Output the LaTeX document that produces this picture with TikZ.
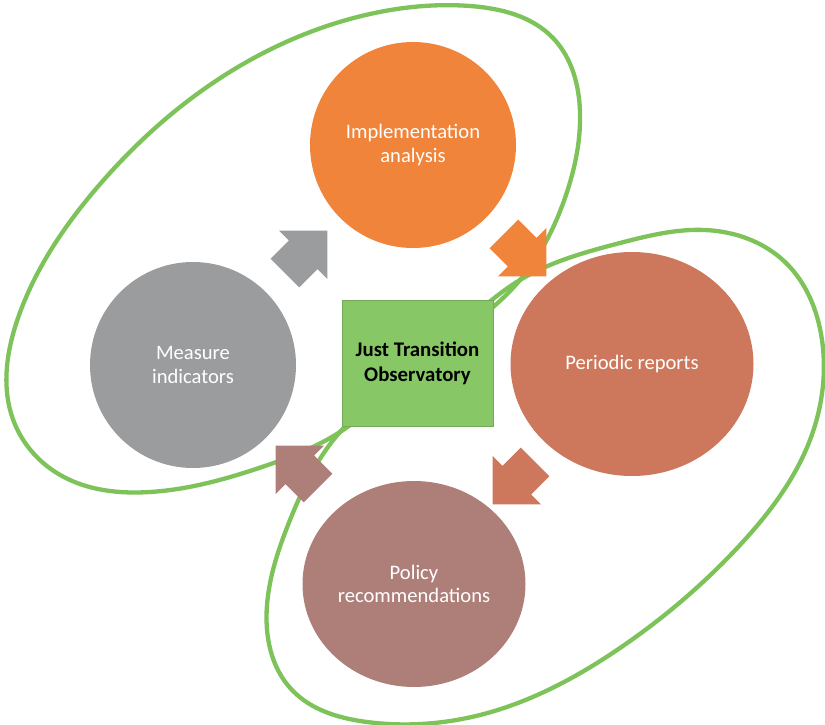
\documentclass[tikz,border=0pt]{standalone}
\usepackage{fontspec}
\setmainfont{Carlito}
\usetikzlibrary{shapes.geometric,shapes.arrows,hobby}

\definecolor{implorange}{HTML}{F0843A}
\definecolor{measuregray}{HTML}{9B9C9E}
\definecolor{reportbrown}{HTML}{CD785C}
\definecolor{policymauve}{HTML}{AE7F79}
\definecolor{hubgreen}{HTML}{88C765}
\definecolor{loopgreen}{HTML}{7DC35A}

\begin{document}
\begin{tikzpicture}[x=1pt,y=-1pt,
    step node/.style={ellipse,inner sep=0pt,text=white,align=center,font=\fontsize{20.6}{23.5}\selectfont},
    hub node/.style={rectangle,fill=hubgreen,draw=hubgreen!85!black,line width=0.8pt,minimum width=151pt,minimum height=126pt,align=center,font=\fontsize{20.8}{25}\selectfont\bfseries},
    arrow node/.style={single arrow,minimum height=60pt,single arrow head extend=14pt,inner xsep=0pt,inner ysep=20pt,text height=0pt,text depth=0pt},
    loop line/.style={draw=loopgreen,line width=4.3pt,use Hobby shortcut,closed=true}]
    \useasboundingbox (0,0) rectangle (825,725);

    % the two loops meet on the diagonal behind the hub
    \draw[loop line] (420,365) .. (520,280) .. (566,195) .. (580,112) .. (553,38) .. (470,6) .. (370,14) .. (225,75) .. (95,190) .. (18,318) .. (14,422) .. (62,476) .. (150,492) .. (262,467) .. (340,432);
    \draw[loop line] (420,365) .. (520,280) .. (620,243) .. (705,230) .. (785,262) .. (822,340) .. (810,440) .. (740,545) .. (620,648) .. (480,715) .. (367,722) .. (292,690) .. (267,605) .. (290,520) .. (340,432);

    \node[step node, fill=implorange, minimum width=206pt, minimum height=206pt] at (413,145) (impl) {Implementation\\analysis};
    \node[step node, fill=measuregray, minimum width=206pt, minimum height=206pt] at (193,365) (measure) {Measure\\indicators};
    \node[step node, fill=reportbrown, minimum width=243pt, minimum height=224pt] at (632,364) (reports) {Periodic reports};
    \node[step node, fill=policymauve, minimum width=223pt, minimum height=206pt] at (414,584) (policy) {Policy\\recommendations};
    \node[hub node] at (417.5,363) (hub) {Just Transition\\Observatory};

    \node[arrow node, fill=measuregray, rotate=45] at (299,259) (measuretoimpl) {};
    \node[arrow node, fill=implorange, rotate=-45] at (518,248) (impltoreports) {};
    \node[arrow node, fill=reportbrown, rotate=-135] at (521,476) (reportstopolicy) {};
    \node[arrow node, fill=policymauve, rotate=135] at (304,474) (policytomeasure) {};
\end{tikzpicture}
\end{document}
